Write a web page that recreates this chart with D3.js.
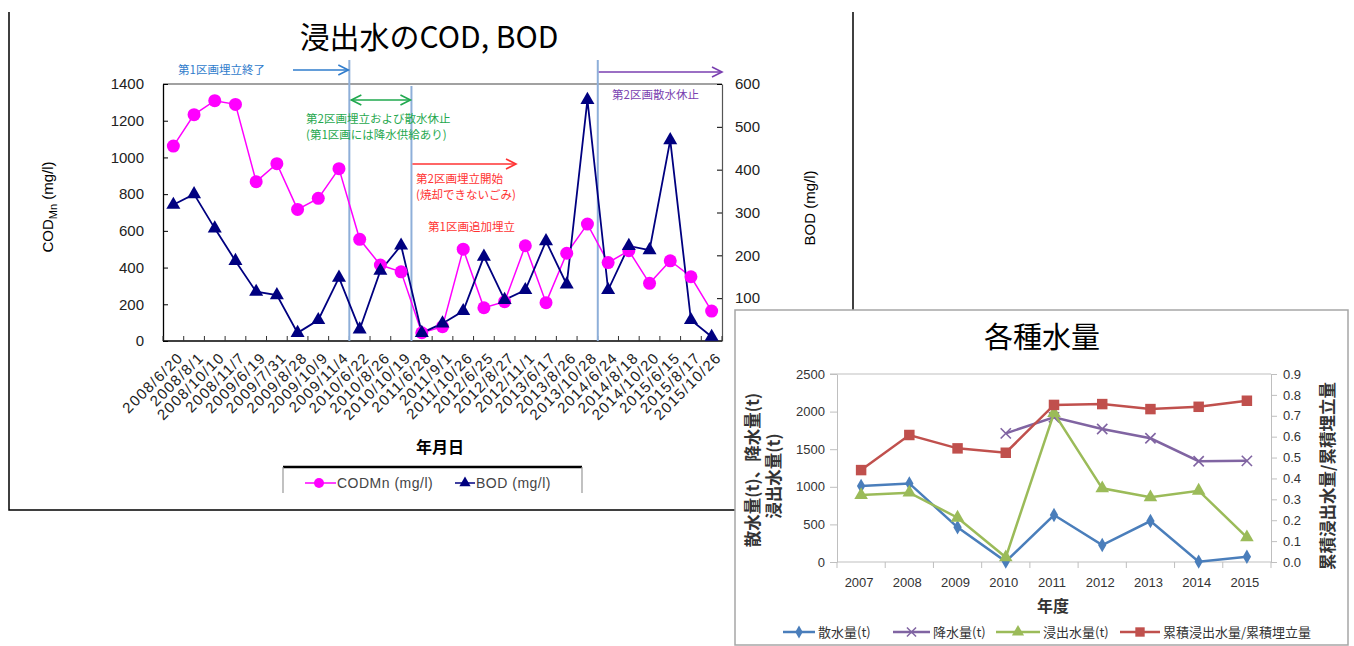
<!DOCTYPE html>
<html><head><meta charset="utf-8">
<script src="https://cdn.jsdelivr.net/npm/d3@7"></script>
<style>
body{margin:0;background:#fff;}
svg text{font-family:"Liberation Sans",Arial,sans-serif;}
svg .jp{font-family:"Noto Sans CJK JP",sans-serif;}
</style></head><body>
<svg id="c" width="1354" height="646"></svg>
<script>
// ---- 浸出水のCOD, BOD ----
const sampleDates = ["2008/6/20","2008/8/1","2008/10/10","2008/11/7","2009/6/19","2009/7/31","2009/8/28","2009/10/9","2009/11/4","2010/6/22","2010/8/26","2010/10/19","2011/6/28","2011/9/1","2011/10/26","2012/6/25","2012/8/27","2012/11/1","2013/6/17","2013/8/26","2013/10/28","2014/6/24","2014/8/18","2014/10/20","2015/6/15","2015/8/17","2015/10/26"];
const codMn = [1062,1233,1309,1289,868,966,717,777,939,554,414,377,45,78,500,181,214,519,209,478,637,427,492,314,437,350,163];
const bod = [318,343,263,187,115,107,19,49,148,27,164,223,19,41,70,197,96,119,233,132,563,119,222,212,469,49,10];
const codTicks = [0,200,400,600,800,1000,1200,1400];
const bodTicks = [100,200,300,400,500,600];

// ---- 各種水量 ----
const years = ["2007","2008","2009","2010","2011","2012","2013","2014","2015"];
const sansui = [1010,1045,461,5,625,226,545,5,70];
const kousui = [null,null,null,1711,1924,1769,1645,1340,1345];
const shinshutsu = [891,922,589,62,1980,980,860,948,328];
const ratio = [0.44,0.608,0.544,0.523,0.752,0.756,0.732,0.743,0.772];
const waterTicks = [0,500,1000,1500,2000,2500];
const ratioTicks = [0,0.1,0.2,0.3,0.4,0.5,0.6,0.7,0.8,0.9];

const svg = d3.select("#c");
svg.append("rect").attr("width",1354).attr("height",646).attr("fill","#fff");

// ================= Chart 1 =================
const g1 = svg.append("g");
// outer frame
g1.append("path").attr("d","M9,12V510H735").attr("fill","none").attr("stroke","#000").attr("stroke-width",1.5);
g1.append("path").attr("d","M853,12V310").attr("fill","none").attr("stroke","#000").attr("stroke-width",1.5);

g1.append("text").attr("class","jp").attr("x",429).attr("y",48).attr("text-anchor","middle")
  .attr("font-size",30).text("浸出水のCOD, BOD");

const L = 163, R = 722, T = 84, B = 341;
const x1 = d3.scaleBand().domain(sampleDates).range([L,R]);
const yC = d3.scaleLinear().domain([0,1400]).range([B,T]);
const yB = d3.scaleLinear().domain([0,600]).range([B,T]);

// plot border top
g1.append("line").attr("x1",L).attr("x2",R).attr("y1",T).attr("y2",T).attr("stroke","#444").attr("stroke-width",1.2);

// left axis
const axL = g1.append("g").attr("transform",`translate(${L},0)`)
  .call(d3.axisLeft(yC).tickValues(codTicks).tickFormat(d3.format("d")).tickSizeInner(-5).tickSizeOuter(0).tickPadding(19));
axL.select(".domain").attr("stroke","#000").attr("stroke-width",1.3);
axL.selectAll("text").attr("font-size",15).attr("fill","#222");

// right axis
const axR = g1.append("g").attr("transform",`translate(${R},0)`)
  .call(d3.axisRight(yB).tickValues(bodTicks).tickFormat(d3.format("d")).tickSizeInner(-5).tickSizeOuter(0).tickPadding(13));
axR.select(".domain").attr("stroke","#555").attr("stroke-width",1.2);
axR.selectAll("text").attr("font-size",15).attr("fill","#222");

// bottom axis
g1.append("line").attr("x1",L).attr("x2",R).attr("y1",B).attr("y2",B).attr("stroke","#000").attr("stroke-width",1.5);
const bounds = d3.range(sampleDates.length+1).map(i => L + i*x1.step());
g1.selectAll(".xt").data(bounds).join("line").attr("class","xt")
  .attr("x1",d=>d).attr("x2",d=>d).attr("y1",B).attr("y2",B-5).attr("stroke","#333");
g1.selectAll(".xl").data(sampleDates).join("text").attr("class","xl")
  .attr("transform",d=>`translate(${x1(d)+x1.bandwidth()/2+7},${B+14}) rotate(-45)`)
  .attr("text-anchor","end").attr("dy","0.35em").attr("font-size",15).attr("letter-spacing",1.3)
  .attr("fill","#222").text(d=>d);

g1.append("text").attr("class","jp").attr("x",440).attr("y",453).attr("text-anchor","middle")
  .attr("font-size",16).attr("font-weight","bold").text("年月日");

// axis titles
const yt = g1.append("text").attr("transform","translate(53,207) rotate(-90)").attr("text-anchor","middle").attr("font-size",15);
yt.append("tspan").text("COD");
yt.append("tspan").attr("font-size",11).attr("dy",4).text("Mn");
yt.append("tspan").attr("dy",-4).text(" (mg/l)");
g1.append("text").attr("transform","translate(815,208) rotate(-90)").attr("text-anchor","middle")
  .attr("font-size",15).text("BOD (mg/l)");

// event markers (vertical lines at boundaries between samples)
const eventIdx = [9,12,21];
const eventTop = [60,86,60];
g1.selectAll(".ev").data(eventIdx).join("line").attr("class","ev")
  .attr("x1",d=>L+d*x1.step()).attr("x2",d=>L+d*x1.step())
  .attr("y1",(d,i)=>eventTop[i]).attr("y2",B).attr("stroke","#8eafd9").attr("stroke-width",2);

function arrow(g, xa, xb, y, color, both){
  g.append("line").attr("x1",xa).attr("x2",xb).attr("y1",y).attr("y2",y).attr("stroke",color).attr("stroke-width",1.6);
  g.append("path").attr("d",`M${xb-10},${y-5}L${xb},${y}L${xb-10},${y+5}`).attr("fill","none").attr("stroke",color).attr("stroke-width",1.6);
  if(both) g.append("path").attr("d",`M${xa+10},${y-5}L${xa},${y}L${xa+10},${y+5}`).attr("fill","none").attr("stroke",color).attr("stroke-width",1.6);
}
const e0 = L+eventIdx[0]*x1.step(), e1 = L+eventIdx[1]*x1.step(), e2 = L+eventIdx[2]*x1.step();
arrow(g1, 293, e0-1, 70, "#2f7ccc", false);
arrow(g1, e0+2, e1-1, 100, "#1fa84e", true);
arrow(g1, e1+1, 516, 164, "#ff3333", false);
arrow(g1, e2+1, 722, 72, "#7a3fb0", false);

const notes = [
  {t:"第1区画埋立終了", x:178, y:70, c:"#2f7ccc"},
  {t:"第2区画埋立および散水休止", x:306, y:119, c:"#1fa84e"},
  {t:"(第1区画には降水供給あり)", x:306, y:135, c:"#1fa84e"},
  {t:"第2区画埋立開始", x:416, y:179, c:"#ff3333"},
  {t:"(焼却できないごみ)", x:416, y:195, c:"#ff3333"},
  {t:"第1区画追加埋立", x:428, y:227, c:"#ff3333"},
  {t:"第2区画散水休止", x:612, y:95, c:"#7a3fb0"}
];
g1.selectAll(".nt").data(notes).join("text").attr("class","nt jp")
  .attr("x",d=>d.x).attr("y",d=>d.y).attr("dy","0.35em").attr("font-size",11.5).attr("fill",d=>d.c).text(d=>d.t);

// series
const cx = d => x1(d) + x1.bandwidth()/2;
g1.append("path").datum(codMn.map((v,i)=>[cx(sampleDates[i]),yC(v)]))
  .attr("d",d3.line()).attr("fill","none").attr("stroke","#ff00ff").attr("stroke-width",1.5);
g1.append("path").datum(bod.map((v,i)=>[cx(sampleDates[i]),yB(v)]))
  .attr("d",d3.line()).attr("fill","none").attr("stroke","#000080").attr("stroke-width",1.8);
g1.selectAll(".cm").data(codMn).join("circle").attr("class","cm")
  .attr("cx",(d,i)=>cx(sampleDates[i])).attr("cy",d=>yC(d)).attr("r",6.5).attr("fill","#ff00ff");
const tri = d3.symbol().type(d3.symbolTriangle).size(85);
g1.selectAll(".bm").data(bod).join("path").attr("class","bm")
  .attr("transform",(d,i)=>`translate(${cx(sampleDates[i])},${yB(d)})`).attr("d",tri).attr("fill","#000080");

// legend
const lg = g1.append("g");
lg.append("line").attr("x1",283).attr("x2",582).attr("y1",467).attr("y2",467).attr("stroke","#000").attr("stroke-width",2.5);
lg.append("path").attr("d","M283,467V493M582,467V493").attr("stroke","#999").attr("stroke-width",1.2);
lg.append("line").attr("x1",305).attr("x2",336).attr("y1",483).attr("y2",483).attr("stroke","#ff00ff").attr("stroke-width",1.5);
lg.append("circle").attr("cx",319).attr("cy",483).attr("r",5).attr("fill","#ff00ff");
lg.append("text").attr("x",337).attr("y",483).attr("dy","0.35em").attr("font-size",14).attr("letter-spacing",0.5).attr("fill","#444").text("CODMn (mg/l)");
lg.append("line").attr("x1",455).attr("x2",475).attr("y1",483).attr("y2",483).attr("stroke","#000080").attr("stroke-width",1.5);
lg.append("path").attr("transform","translate(465,483)").attr("d",d3.symbol().type(d3.symbolTriangle).size(55)).attr("fill","#000080");
lg.append("text").attr("x",476).attr("y",483).attr("dy","0.35em").attr("font-size",14).attr("letter-spacing",0.5).attr("fill","#444").text("BOD (mg/l)");

// ================= Chart 2 =================
const g2 = svg.append("g");
g2.append("rect").attr("x",735).attr("y",310).attr("width",613).attr("height",335)
  .attr("fill","#fff").attr("stroke","#a6a6a6").attr("stroke-width",1.5);
g2.append("text").attr("class","jp").attr("x",1042).attr("y",348).attr("text-anchor","middle")
  .attr("font-size",29).text("各種水量");

const L2 = 837, R2 = 1271, T2 = 374, B2 = 562;
const x2 = d3.scaleBand().domain(years).range([L2,R2]);
const yW = d3.scaleLinear().domain([0,2500]).range([B2,T2]);
const yQ = d3.scaleLinear().domain([0,0.9]).range([B2,T2]);
const grey = "#bfbfbf";

g2.append("line").attr("x1",L2-7).attr("x2",R2).attr("y1",T2).attr("y2",T2).attr("stroke",grey).attr("stroke-width",1.2);
const a2L = g2.append("g").attr("transform",`translate(${L2},0)`)
  .call(d3.axisLeft(yW).tickValues(waterTicks).tickFormat(d3.format("d")).tickSizeInner(7).tickSizeOuter(0).tickPadding(5));
a2L.selectAll("line,path").attr("stroke",grey);
a2L.selectAll("text").attr("font-family","Noto Sans").attr("font-size",13).attr("fill","#333");
const a2R = g2.append("g").attr("transform",`translate(${R2},0)`)
  .call(d3.axisRight(yQ).tickValues(ratioTicks).tickFormat(d3.format(".1f")).tickSizeInner(6).tickSizeOuter(0).tickPadding(6));
a2R.selectAll("line,path").attr("stroke",grey);
a2R.selectAll("text").attr("font-family","Noto Sans").attr("font-size",13).attr("fill","#333");

g2.append("line").attr("x1",L2).attr("x2",R2).attr("y1",B2).attr("y2",B2).attr("stroke",grey).attr("stroke-width",1.2);
const b2 = d3.range(years.length+1).map(i => L2 + i*x2.step());
g2.selectAll(".xt2").data(b2).join("line").attr("class","xt2")
  .attr("x1",d=>d).attr("x2",d=>d).attr("y1",B2).attr("y2",B2+6).attr("stroke",grey);
g2.selectAll(".xl2").data(years).join("text").attr("class","xl2")
  .attr("x",d=>x2(d)+x2.bandwidth()/2-2).attr("y",587).attr("text-anchor","middle")
  .attr("font-family","Noto Sans").attr("font-size",13).attr("fill","#333").text(d=>d);

g2.append("text").attr("class","jp").attr("x",1053).attr("y",612).attr("text-anchor","middle")
  .attr("font-size",16).attr("font-weight","bold").attr("fill","#333").text("年度");
g2.append("text").attr("class","jp").attr("transform","translate(759,470) rotate(-90)").attr("text-anchor","middle")
  .attr("font-size",16.5).attr("font-weight","bold").attr("fill","#333").text("散水量(t)、降水量(t)");
g2.append("text").attr("class","jp").attr("transform","translate(780,476) rotate(-90)").attr("text-anchor","middle")
  .attr("font-size",16.5).attr("font-weight","bold").attr("fill","#333").text("浸出水量(t)");
g2.append("text").attr("class","jp").attr("transform","translate(1334,476) rotate(-90)").attr("text-anchor","middle")
  .attr("font-size",16.5).attr("font-weight","bold").attr("fill","#333").text("累積浸出水量/累積埋立量");

const cx2 = i => x2(years[i]) + x2.bandwidth()/2;
const series2 = [
  {vals:sansui, y:yW, color:"#4a7ebb", sym:d3.symbolDiamond, size:60, stroke:false},
  {vals:kousui, y:yW, color:"#8064a2", sym:d3.symbolX, size:70, stroke:true},
  {vals:shinshutsu, y:yW, color:"#9bbb59", sym:d3.symbolTriangle, size:80, stroke:false},
  {vals:ratio, y:yQ, color:"#c0504d", sym:d3.symbolSquare, size:110, stroke:false}
];
series2.forEach(s => {
  const pts = s.vals.map((v,i)=>v==null?null:[cx2(i), s.y(v)]);
  g2.append("path").datum(pts).attr("d",d3.line().defined(d=>d!=null))
    .attr("fill","none").attr("stroke",s.color).attr("stroke-width",2.5);
  g2.selectAll(null).data(pts.filter(p=>p)).join("path")
    .attr("transform",p=>`translate(${p[0]},${p[1]})`)
    .attr("d",d3.symbol().type(s.sym).size(s.size))
    .attr("fill",s.stroke?"none":s.color).attr("stroke",s.stroke?s.color:"none").attr("stroke-width",1.6);
});

// legend 2
const legItems = [
  {t:"散水量(t)", x0:783, x1:815},
  {t:"降水量(t)", x0:893, x1:930},
  {t:"浸出水量(t)", x0:996, x1:1040},
  {t:"累積浸出水量/累積埋立量", x0:1120, x1:1160}
];
legItems.forEach((it,i) => {
  const s = series2[i];
  g2.append("line").attr("x1",it.x0).attr("x2",it.x1).attr("y1",632).attr("y2",632).attr("stroke",s.color).attr("stroke-width",2.5);
  g2.append("path").attr("transform",`translate(${(it.x0+it.x1)/2},632)`)
    .attr("d",d3.symbol().type(s.sym).size(s.size*0.8))
    .attr("fill",s.stroke?"none":s.color).attr("stroke",s.stroke?s.color:"none").attr("stroke-width",1.5);
  g2.append("text").attr("class","jp").attr("x",it.x1+3).attr("y",632).attr("dy","0.35em")
    .attr("font-size",13).attr("fill","#333").text(it.t);
});
</script>
</body></html>
